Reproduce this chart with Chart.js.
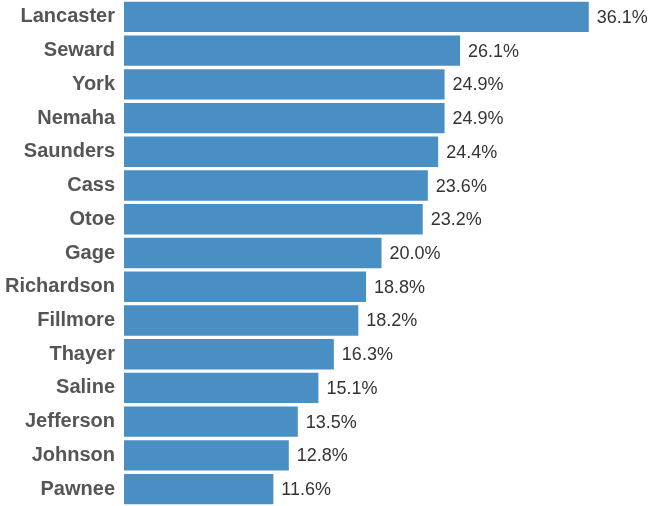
<!DOCTYPE html>
<html>
<head>
<meta charset="utf-8">
<script src="https://cdn.jsdelivr.net/npm/chart.js@4"></script>
<style>
  html, body { margin: 0; padding: 0; background: #fff; }
  #wrap { width: 653px; height: 506px; }
</style>
</head>
<body>
<div id="wrap"><canvas id="chart" width="653" height="506"></canvas></div>
<script>
// county shares
const counties = ['Lancaster', 'Seward', 'York', 'Nemaha', 'Saunders', 'Cass', 'Otoe', 'Gage',
                  'Richardson', 'Fillmore', 'Thayer', 'Saline', 'Jefferson', 'Johnson', 'Pawnee'];
const shares   = [36.1, 26.1, 24.9, 24.9, 24.4, 23.6, 23.2, 20.0, 18.8, 18.2, 16.3, 15.1, 13.5, 12.8, 11.6];

const BAR_COLOR = '#4a8fc4';

// value text after each bar end
const valueLabels = {
  id: 'valueLabels',
  afterDatasetsDraw: function (chart) {
    var ctx = chart.ctx;
    var meta = chart.getDatasetMeta(0);
    ctx.save();
    ctx.font = '18px "Liberation Sans", Arial, sans-serif';
    ctx.fillStyle = '#333';
    ctx.textAlign = 'left';
    ctx.textBaseline = 'middle';
    meta.data.forEach(function (bar, i) {
      ctx.fillText(shares[i].toFixed(1) + '%', bar.x + 8, bar.y + 1);
    });
    ctx.restore();
  },
};

new Chart(document.getElementById('chart').getContext('2d'), {
  type: 'bar',
  data: {
    labels: counties,
    datasets: [{
      data:               shares,
      backgroundColor:    BAR_COLOR,
      borderWidth:        0,
      barPercentage:      0.9,
      categoryPercentage: 1.0,
    }],
  },
  options: {
    indexAxis:           'y',
    responsive:          false,
    animation:           false,
    layout:              { padding: { top: 0, bottom: 0, left: 0, right: 14 } },
    plugins: {
      legend:  { display: false },
      tooltip: { enabled: false },
    },
    scales: {
      x: { display: false, min: 0, max: 40 },
      y: {
        grid:   { display: false, drawTicks: false },
        border: { display: false },
        afterFit: function (s) {
          s.width = 124;
          s.paddingTop = 0;
          s.paddingBottom = 0;
        },
        ticks: {
          padding: 9,
          color:   '#555',
          font:    { family: '"Liberation Sans", Arial, sans-serif', size: 20, weight: 'bold' },
        },
      },
    },
  },
  plugins: [valueLabels],
});
</script>
</body>
</html>
